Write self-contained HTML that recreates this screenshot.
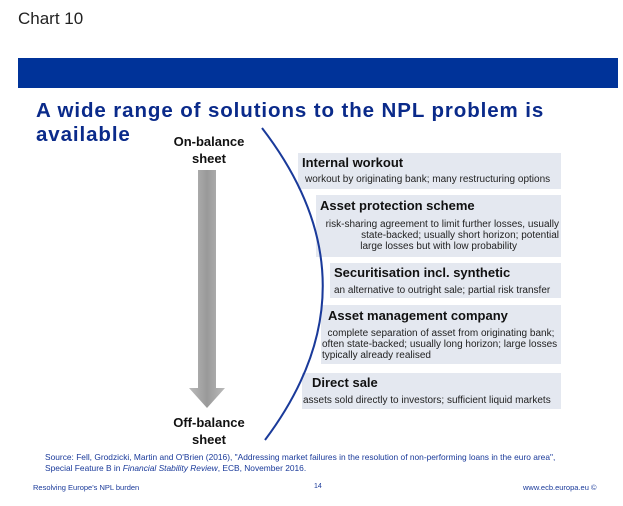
<!DOCTYPE html>
<html><head><meta charset="utf-8"><style>
body{margin:0;width:623px;height:506px;background:#fff;font-family:"Liberation Sans",Arial,sans-serif;position:relative;overflow:hidden}
.a{position:absolute;white-space:nowrap}
.box{position:absolute;background:#e4e8f0;right:62px}
.h{position:absolute;font-weight:bold;font-size:13px;color:#111}
.d{position:absolute;font-size:10px;color:#222;line-height:11px}
</style></head><body>
<div class="a" style="left:18px;top:9px;font-size:17px;color:#222">Chart 10</div>
<div class="a" style="left:18px;top:58px;width:600px;height:30px;background:#003399"></div>
<div class="a" style="left:36px;top:99px;font-size:20.5px;letter-spacing:0.9px;font-weight:bold;color:#0a2a8a;line-height:24px">A wide range of solutions to the NPL problem is<br>available</div>
<div class="a" style="left:168px;top:133px;width:82px;text-align:center;font-size:13px;font-weight:bold;line-height:17px;color:#111">On-balance<br>sheet</div>
<div class="a" style="left:168px;top:414px;width:82px;text-align:center;font-size:13px;font-weight:bold;line-height:17px;color:#111">Off-balance<br>sheet</div>
<div class="box" style="left:298px;top:153px;height:36px"><div class="h" style="left:4px;top:2px">Internal workout</div><div class="d" style="left:7px;top:21px">workout by originating bank; many restructuring options</div></div>
<div class="box" style="left:316px;top:195px;height:62px"><div class="h" style="left:4px;top:3px">Asset protection scheme</div><div class="d" style="right:2px;top:24px;text-align:right">risk-sharing agreement to limit further losses, usually<br>state-backed; usually short horizon; potential<br><span style="margin-right:42px">large losses but with low probability</span></div></div>
<div class="box" style="left:330px;top:263px;height:35px"><div class="h" style="left:4px;top:2px">Securitisation incl. synthetic</div><div class="d" style="left:4px;top:22px">an alternative to outright sale; partial risk transfer</div></div>
<div class="box" style="left:321px;top:305px;height:59px"><div class="h" style="left:7px;top:3px">Asset management company</div><div class="d" style="left:1px;top:23px">&nbsp;&nbsp;complete separation of asset from originating bank;<br>often state-backed; usually long horizon; large losses<br>typically already realised</div></div>
<div class="box" style="left:302px;top:373px;height:36px"><div class="h" style="left:10px;top:2px">Direct sale</div><div class="d" style="left:1px;top:22px">assets sold directly to investors; sufficient liquid markets</div></div>
<svg class="a" style="left:0;top:0" width="623" height="506">
<defs><linearGradient id="g" x1="0" x2="1"><stop offset="0" stop-color="#bbb"/><stop offset="0.5" stop-color="#999"/><stop offset="1" stop-color="#bbb"/></linearGradient></defs>
<polygon points="198,170 216,170 216,388 225,388 207,408 189,388 198,388" fill="url(#g)"/>
<path d="M262,128 Q382,284 265,440" fill="none" stroke="#1a3a9a" stroke-width="2"/>
</svg>
<div class="a" style="left:45px;top:452px;font-size:8.4px;color:#1a3a9a;line-height:11px">Source: Fell, Grodzicki, Martin and O'Brien (2016), "Addressing market failures in the resolution of non-performing loans in the euro area",<br>Special Feature B in <i>Financial Stability Review</i>, ECB, November 2016.</div>
<div class="a" style="left:33px;top:483px;font-size:7.5px;color:#1a3a9a">Resolving Europe's NPL burden</div>
<div class="a" style="left:314px;top:483px;font-size:7px;color:#1a3a9a">14</div>
<div class="a" style="left:523px;top:483px;font-size:7.5px;color:#1a3a9a">www.ecb.europa.eu ©</div>
</body></html>
